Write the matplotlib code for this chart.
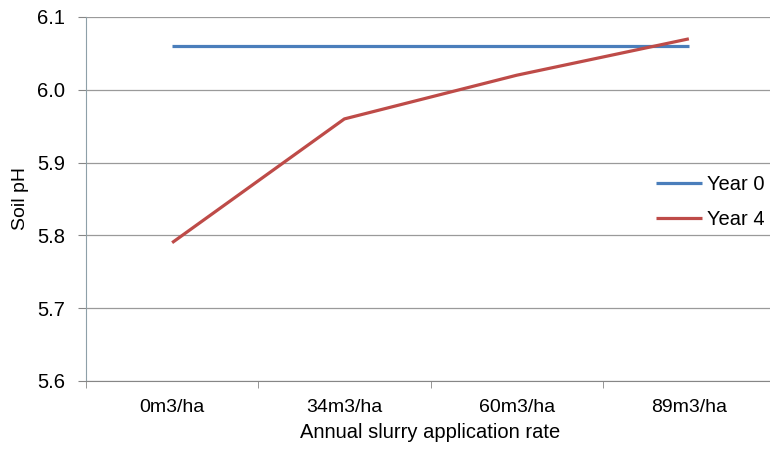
import matplotlib
matplotlib.use("Agg")
import matplotlib.pyplot as plt
import numpy as np

plt.rcParams['font.family'] = ['Liberation Sans', 'DejaVu Sans']

categories = ["0m3/ha", "34m3/ha", "60m3/ha", "89m3/ha"]
year0 = [6.06, 6.06, 6.06, 6.06]
year4 = [5.79, 5.96, 6.02, 6.07]
yticks = [5.6, 5.7, 5.8, 5.9, 6.0, 6.1]

W, H = 770, 453
fig = plt.figure(figsize=(W / 100, H / 100), dpi=100)
left, right, top, bottom = 86, 775, 17, 381
ax = fig.add_axes([left / W, 1 - bottom / H, (right - left) / W, (bottom - top) / H])

x = np.arange(len(categories))
ax.plot(x, year0, color="#4A7EBB", lw=2.3, label="Year 0", solid_capstyle="butt")
ax.plot(x, year4, color="#BE4B48", lw=2.3, label="Year 4", solid_capstyle="butt")

ax.set_xlim(-0.5, len(categories) - 0.5)
ax.set_ylim(5.6, 6.1)
ax.set_yticks(yticks)
ax.set_yticklabels([f"{v:.1f}" for v in yticks], fontsize=14.5)
ax.set_xticks(x)
ax.set_xticklabels(categories, fontsize=14)
ax.set_xticks(np.arange(-0.5, len(categories), 1.0), minor=True)
ax.tick_params(axis="x", which="major", length=0, pad=13)
ax.tick_params(axis="x", which="minor", length=5, color="#868686")
ax.tick_params(axis="y", length=6, color="#868686", pad=9)

ax.grid(axis="y", color="#9a9a9a", lw=0.9)
ax.set_axisbelow(True)
for s in ["top", "right"]:
    ax.spines[s].set_visible(False)
ax.spines["left"].set_color("#8ea0a8")
ax.spines["bottom"].set_color("#868686")

ax.set_xlabel("Annual slurry application rate", fontsize=14.5, labelpad=5)
ax.set_ylabel("Soil pH", fontsize=14, labelpad=6)

leg = ax.legend(loc="center right", bbox_to_anchor=(769 / W, 1 - 202 / H),
                bbox_transform=fig.transFigure, frameon=True, borderaxespad=0,
                fontsize=14.5, handlelength=2.3, handletextpad=0.25,
                labelspacing=0.75, borderpad=0.2)
leg.get_frame().set_edgecolor("none")
leg.get_frame().set_facecolor("white")
leg.get_frame().set_alpha(1.0)

fig.savefig("out.png", dpi=100)
